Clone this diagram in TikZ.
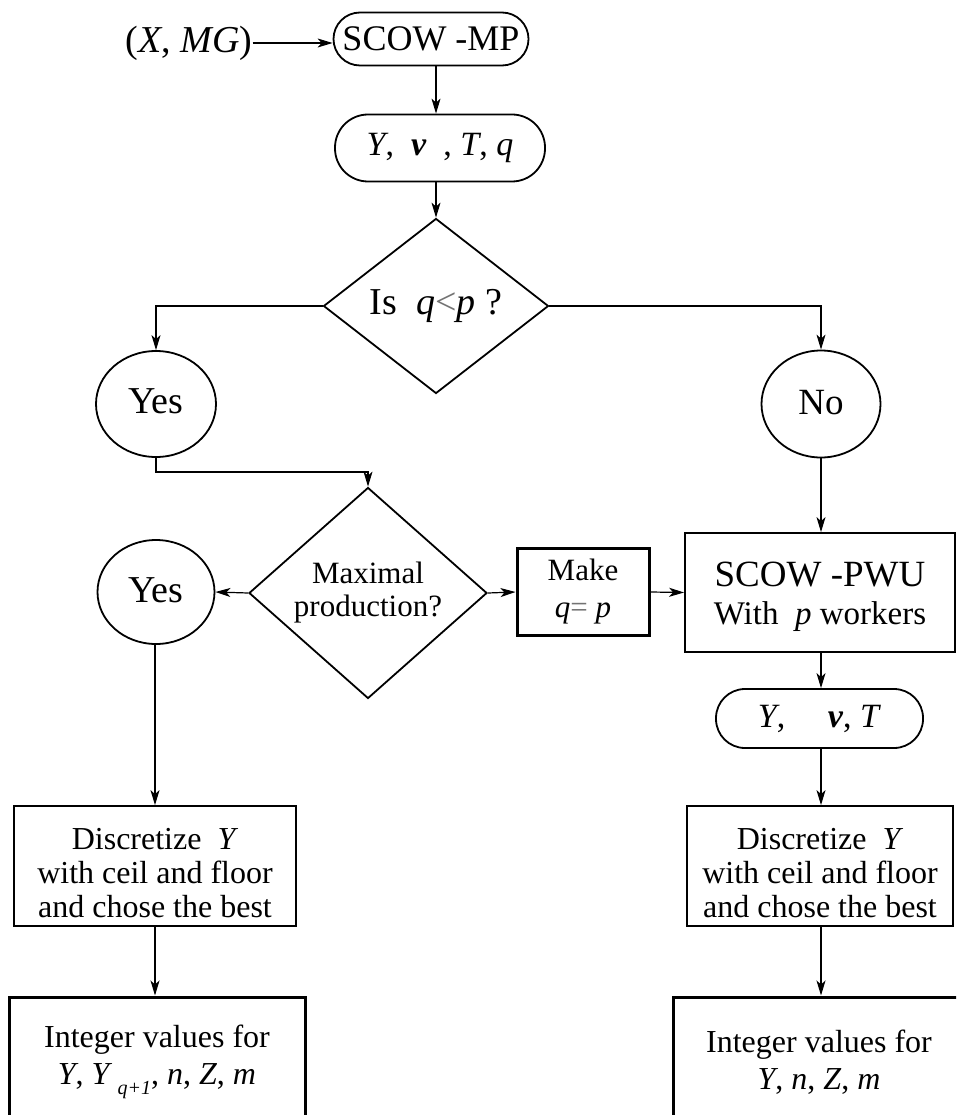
\documentclass[tikz,border=0pt]{standalone}
\usepackage{fontspec}
\setmainfont{Liberation Serif}
\usetikzlibrary{arrows.meta,shapes.geometric}
\newcommand\setfs[2]{\fontsize{#1}{#2}\selectfont}
\begin{document}
\begin{tikzpicture}[x=1pt,y=-1pt,
  every node/.style={inner sep=0pt, align=center, font=\setfs{32}{36}},
  box/.style={draw, line width=1.8pt, rectangle},
  heavybox/.style={draw, line width=3pt, rectangle},
  term/.style={draw, line width=1.8pt, rectangle},
  circ/.style={draw, line width=1.8pt, ellipse},
  dia/.style={draw, line width=1.8pt, diamond},
  arr/.style={line width=1.2pt, -{Stealth[length=15pt,width=9pt,inset=4pt]}}
]
\useasboundingbox (0,0) rectangle (956,1115);
\clip (0,0) rectangle (956,1115);
\fill[white] (0,0) rectangle (956,1115);

% top chain
\node (inp) at (189,43) {\setfs{38}{40}(\textit{X}, \textit{MG})};
\node[term, minimum width=195pt, minimum height=53pt, rounded corners=26.5pt,
      font=\setfs{36}{40}] (mp) at (431,39) {SCOW -MP};
\node[term, minimum width=210pt, minimum height=67pt, rounded corners=33pt,
      font=\setfs{34}{38}] (vars1) at (440,148)
      {\textit{Y},\enspace\textbf{\textit{ν}}\enspace, \textit{T}, \textit{q}};
\node[dia, minimum width=225pt, minimum height=175pt, font=\setfs{38}{40}] (d1) at (436,306)
      {\raisebox{6pt}{Is \ \textit{q}\textcolor{black!55}{<}\textit{p} ?}};

% branches of the first test
\node[circ, minimum width=120pt, minimum height=106pt, font=\setfs{38}{40}] (yes1) at (156,404)
      {\raisebox{5pt}{Yes}};
\node[circ, minimum width=119pt, minimum height=107pt, font=\setfs{37}{40}] (no) at (821,404)
      {\raisebox{4pt}{No}};

% second test and its neighbours
\node[dia, minimum width=238pt, minimum height=211pt, font=\setfs{31}{33}] (d2) at (368,593)
      {Maximal\\production?};
\node[circ, minimum width=117pt, minimum height=104pt, font=\setfs{38}{40}] (yes2) at (156,592)
      {\raisebox{4pt}{Yes}};
\node[heavybox, minimum width=132pt, minimum height=87pt, font=\setfs{31}{37}] (make) at (583,592)
      {Make\\\textit{q}\textcolor{black!55}{=} \textit{p}};
\node[box, minimum width=270pt, minimum height=119pt] (pwu) at (820,592.5)
      {\rule{0pt}{34pt}{\setfs{37}{42}SCOW -PWU}\\[2pt]{\setfs{33}{38}With \ \textit{p} workers}};
\node[term, minimum width=207pt, minimum height=59pt, rounded corners=29pt,
      font=\setfs{34}{38}] (vars2) at (819.5,718.5)
      {\textit{Y}, \quad\textbf{\textit{ν}}, \textit{T}};

% discretisation: frames and their texts
\node[box, minimum width=282pt, minimum height=120pt] (disc1) at (155,866) {};
\node[font=\setfs{32}{34}] (disc1text) at (155,873)
      {Discretize \ \textit{Y}\\with ceil and floor\\and chose the best};
\node[box, minimum width=266pt, minimum height=120pt] (disc2) at (820,866) {};
\node[font=\setfs{32}{34}] (disc2text) at (820,873)
      {Discretize \ \textit{Y}\\with ceil and floor\\and chose the best};

% results
\node[heavybox, minimum width=296pt, minimum height=130pt, font=\setfs{32}{37}] (int1) at (157,1062)
      {Integer values for\\\textit{Y}, \textit{Y}\,\raisebox{-0.3em}{\setfs{20}{22}\textit{q+1}}, \textit{n}, \textit{Z}, \textit{m}};
\node[heavybox, minimum width=292pt, minimum height=130pt, font=\setfs{32}{37}] (int2) at (819,1062)
      {Integer values for\\\textit{Y}, \textit{n}, \textit{Z}, \textit{m}};

\coordinate (join) at (368,472);

% connectors
\draw[arr] (inp.east) -- (inp.east -| mp.west);
\draw[arr] (mp.south -| d1) -- (vars1.north -| d1);
\draw[arr] (vars1.south -| d1) -- (d1.north);
\draw[arr] (d1.west) -| (yes1.north);
\draw[arr] (d1.east) -| (no.north);
\draw[arr] (yes1.south) |- (join) -- (d2.north);
\draw[arr] (d2.west) -- (yes2.east);
\draw[arr] (d2.east) -- (make.west);
\draw[arr] (make.east) -- (pwu.west);
\draw[arr] (no.south) -- (pwu.north -| no);
\draw[arr] (pwu.south -| no) -- (vars2.north -| no);
\draw[arr] (vars2.south -| no) -- (disc2.north -| no);
\draw[arr] (disc2.south -| no) -- (int2.north -| no);
\draw[arr] (yes2.south -| disc1) -- (disc1.north);
\draw[arr] (disc1.south) -- (int1.north -| disc1);
\end{tikzpicture}
\end{document}
